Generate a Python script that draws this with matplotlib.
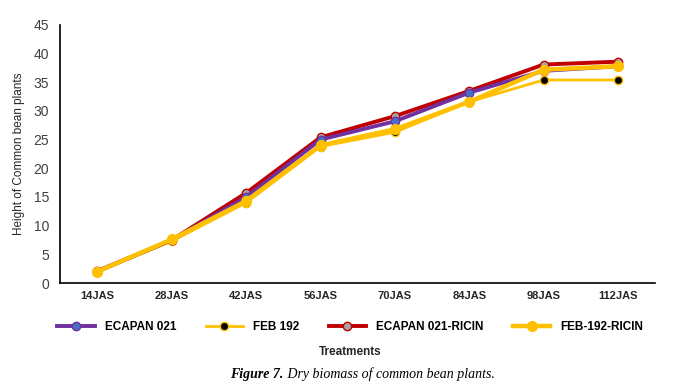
import matplotlib

matplotlib.use('Agg')
import matplotlib.pyplot as plt
import numpy as np

plt.rcParams['font.family'] = ['Liberation Sans', 'DejaVu Sans']

# данные
treatments = ['14JAS', '28JAS', '42JAS', '56JAS', '70JAS', '84JAS', '98JAS', '112JAS']
ecapan = [2.0, 7.5, 15.0, 25.0, 28.2, 33.2, 37.0, 37.8]
feb192 = [2.0, 7.3, 14.0, 23.8, 26.3, 31.6, 35.4, 35.4]
ecapan_ricin = [2.1, 7.5, 15.7, 25.4, 29.1, 33.5, 38.1, 38.6]
feb_ricin = [2.0, 7.6, 14.3, 24.0, 26.8, 31.6, 37.2, 37.8]

fig = plt.figure(figsize=(7, 3.84), dpi=100)
ax = fig.add_axes([0.086, 0.263, 0.85, 0.672])

x = np.arange(len(treatments))
ax.plot(x, ecapan, color='#7030A0', lw=2.8, marker='o', ms=6,
        mfc='#4472C4', mec='#7030A0', label='ECAPAN 021', zorder=3)
ax.plot(x, feb192, color='#FFC000', lw=2.0, marker='o', ms=6,
        mfc='black', mec='#FFC000', label='FEB 192', zorder=2)
ax.plot(x, ecapan_ricin, color='#C00000', lw=2.8, marker='o', ms=6,
        mfc='#A5A5A5', mec='#C00000', label='ECAPAN 021-RICIN', zorder=2)
ax.plot(x, feb_ricin, color='#FFC000', lw=3.2, marker='o', ms=7,
        mfc='#FFC000', mec='#FFC000', label='FEB-192-RICIN', zorder=4)

ax.set_xlim(-0.5, len(treatments) - 0.5)
ax.set_ylim(0, 45)
ax.set_yticks(range(0, 46, 5))
ax.set_xticks(x)
ax.set_xticklabels(treatments, fontsize=8, fontweight='bold', color='#262626')
ax.tick_params(axis='y', length=0, labelsize=10, colors='#404040', pad=8)
ax.tick_params(axis='x', length=0, pad=6)
ax.set_ylabel('Height of Common bean plants', fontsize=8.5, color='#262626', labelpad=6)

for s in ['top', 'right']:
    ax.spines[s].set_visible(False)
ax.spines['left'].set_linewidth(1.2)
ax.spines['bottom'].set_linewidth(1.2)

fig.legend(loc='center', bbox_to_anchor=(0.5, 0.148), ncol=4, frameon=False,
           handlelength=3.2, columnspacing=2.5,
           prop={'weight': 'bold', 'size': 8.5})
fig.text(0.5, 0.083, 'Treatments', ha='center', va='center', fontsize=8.5,
         fontweight='bold', color='#262626')
fig.text(0.405, 0.025, 'Figure 7.', ha='right', va='center', fontsize=10,
         family='Liberation Serif', style='italic', fontweight='bold')
fig.text(0.405, 0.025, ' Dry biomass of common bean plants.', ha='left', va='center',
         fontsize=10, family='Liberation Serif', style='italic')

plt.savefig('out.png')
plt.close()
